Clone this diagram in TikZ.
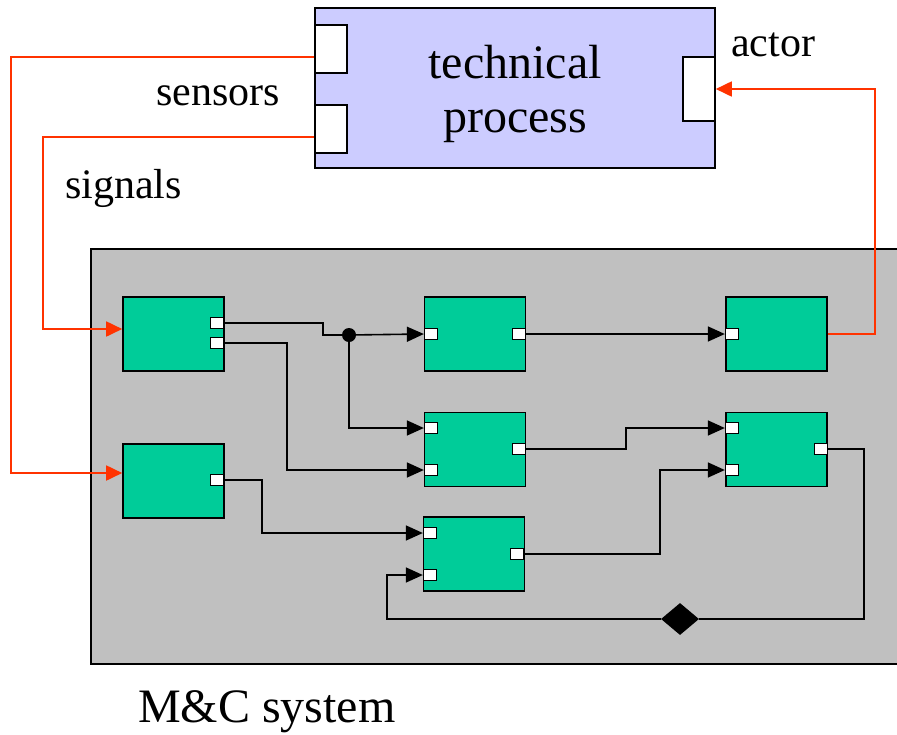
\documentclass[tikz,border=0pt]{standalone}
\usepackage{fontspec}
\setmainfont{Liberation Serif}
\usetikzlibrary{arrows.meta,shapes.geometric}
\definecolor{procfill}{HTML}{CCCCFF}
\definecolor{sysfill}{HTML}{C0C0C0}
\definecolor{blkfill}{HTML}{00CC99}
\definecolor{sigred}{HTML}{FF3300}
\tikzset{
  blk/.style={draw, line width=1.6pt, fill=blkfill, inner sep=0pt,
              minimum width=101pt, minimum height=74pt},
  prt/.style={draw, line width=1.3pt, fill=white, inner sep=0pt,
              minimum width=13pt, minimum height=11pt},
  bigprt/.style={draw, line width=1.6pt, fill=white, inner sep=0pt,
                 minimum width=32pt},
  wire/.style={line width=1.6pt, black},
  arr/.style={-{Triangle[length=17pt,width=15pt]}},
  redwire/.style={line width=1.8pt, sigred, -{Triangle[length=16pt,width=15pt]}},
  bigtxt/.style={font=\fontsize{48}{54}\selectfont, inner sep=0pt},
  lbl/.style={font=\fontsize{42}{48}\selectfont, inner sep=0pt, anchor=base west},
}
\begin{document}
\begin{tikzpicture}[x=1pt, y=-1pt]
\useasboundingbox (0,0) rectangle (897,734);
\clip (0,0) rectangle (897,734);
\fill[white] (0,0) rectangle (897,734);

% technical process with its ports
\node[draw, line width=1.8pt, fill=procfill, minimum width=400pt, minimum height=160pt,
      inner sep=0pt] (proc) at (515,88) {};
\node[bigtxt, anchor=base] (t1) at (515,78) {technical};
\node[bigtxt, anchor=base] (t2) at (515,132) {process};
\node[bigprt, minimum height=48pt] (P1) at (331,49) {};
\node[bigprt, minimum height=48pt] (P2) at (331,129) {};
\node[bigprt, minimum height=64pt] (Pa) at (699,89) {};

\node[lbl] (lsens) at (156,105) {sensors};
\node[lbl] (lsig) at (65,198) {signals};
\node[lbl] (lact) at (731,56) {actor};

% M&C system
\draw[line width=2.5pt, fill=sysfill] (91,249) rectangle (910,664);
\node[bigtxt, anchor=base west] (lmc) at (138,722) {M\&C system};

% function blocks
\node[blk] (A) at (173.5,334) {};
\node[blk] (B) at (173.5,481) {};
\node[blk] (C) at (475,334) {};
\node[blk] (D) at (776.5,334) {};
\node[blk] (E) at (475,449.5) {};
\node[blk] (F) at (776.5,449.5) {};
\node[blk] (G) at (474,554) {};

% block ports
\node[prt] (Aout1) at (217,323) {};
\node[prt] (Aout2) at (217,343) {};
\node[prt] (Bout) at (217,480) {};
\node[prt] (Cin) at (431,334) {};
\node[prt] (Cout) at (519,334) {};
\node[prt] (Din) at (732,334) {};
\node[prt] (Ein1) at (431,428) {};
\node[prt] (Ein2) at (431,470) {};
\node[prt] (Eout) at (519,449) {};
\node[prt] (Fin1) at (732,428) {};
\node[prt] (Fin2) at (732,470) {};
\node[prt] (Fout) at (821,449) {};
\node[prt] (Gin1) at (430,533) {};
\node[prt] (Gin2) at (430,575) {};
\node[prt] (Gout) at (517,554) {};

% branch point and delay element
\node[circle, fill=black, inner sep=0pt, minimum size=14pt] (j) at (349,335) {};
\node[diamond, fill=black, inner sep=0pt, minimum width=38pt, minimum height=32pt] (dly) at (680,619) {};

% internal connections
\draw[wire] (Aout1.east) -- (323,323) -- (323,335) -- (j);
\draw[wire, arr] (j) -- (Cin.west);
\draw[wire, arr] (j) |- (Ein1.west);
\draw[wire, arr] (Aout2.east) -- (287,343) |- (Ein2.west);
\draw[wire, arr] (Bout.east) -- (262,480) |- (Gin1.west);
\draw[wire, arr] (Cout.east) -- (Din.west);
\draw[wire, arr] (Eout.east) -- (626,449) |- (Fin1.west);
\draw[wire, arr] (Gout.east) -- (660,554) |- (Fin2.west);
\draw[wire] (Fout.east) -- (864,449) |- (dly.east);
\draw[wire, arr] (dly.west) -- (387,619) |- (Gin2.west);

% signals between process and M&C system
\draw[redwire] ([yshift=-8pt]P1.west) -| (11,473) -- ([yshift=8pt]B.west);
\draw[redwire] ([yshift=-8pt]P2.west) -| (43,329) -- ([yshift=5pt]A.west);
\draw[redwire] (D.east) -- (875,334) |- (Pa.east);
\end{tikzpicture}
\end{document}
